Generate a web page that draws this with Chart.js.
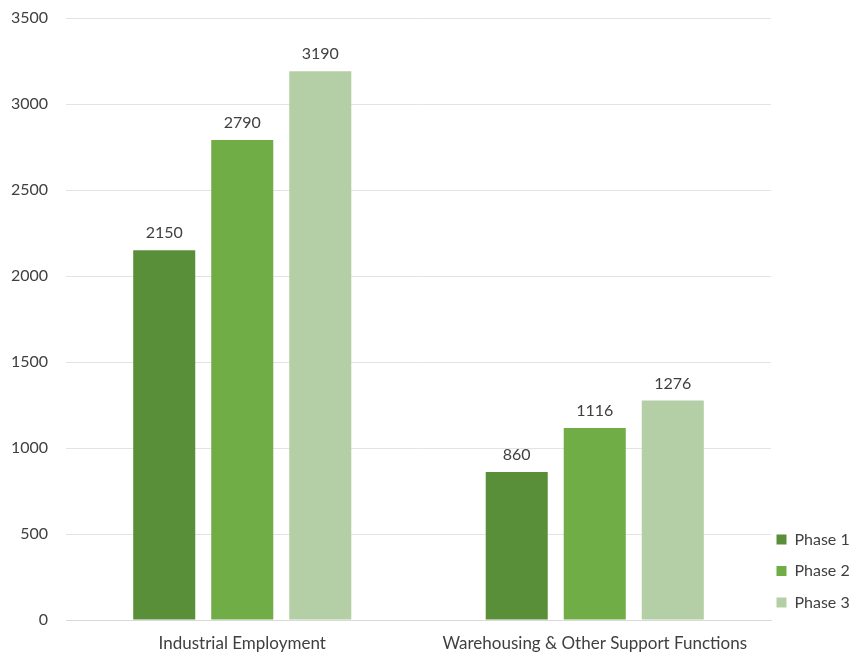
<!DOCTYPE html>
<html>
<head>
<meta charset="utf-8">
<script src="https://cdn.jsdelivr.net/npm/chart.js@4/dist/chart.umd.min.js"></script>
<style>
  html, body { margin: 0; padding: 0; background: #fff; }
  #wrap { width: 850px; height: 655px; }
</style>
</head>
<body>
<div id="wrap"><canvas id="chart"></canvas></div>
<script>
// --- data ---
const categories = ['Industrial Employment', 'Warehousing & Other Support Functions'];
const seriesNames = ['Phase 1', 'Phase 2', 'Phase 3'];
const phase1 = [2150, 860];
const phase2 = [2790, 1116];
const phase3 = [3190, 1276];
const yTicks = [0, 500, 1000, 1500, 2000, 2500, 3000, 3500];

const colors = ['#5a8f3a', '#70ad47', '#b4cea5'];
const FONT = 'Lato, "Open Sans", sans-serif';

// draws the value above every bar
const valueLabels = {
    id: 'valueLabels',
    afterDatasetsDraw(chart) {
        const ctx = chart.ctx;
        ctx.save();
        ctx.font = '16px ' + FONT;
        ctx.fillStyle = '#404040';
        ctx.textAlign = 'center';
        ctx.textBaseline = 'bottom';
        chart.data.datasets.forEach((ds, i) => {
            chart.getDatasetMeta(i).data.forEach((bar, j) => {
                ctx.fillText(ds.data[j], bar.x, bar.y - 9);
            });
        });
        ctx.restore();
    }
};

// keep the legend narrow so the plot reaches x=771, then nudge it into place
const legendFit = {
    id: 'legendFit',
    afterInit(chart) {
        const lg = chart.legend;
        const orig = lg.fit.bind(lg);
        lg.fit = function() { orig(); this.width = 79; };
    },
    afterLayout(chart) {
        const lg = chart.legend;
        lg.left -= 10;
        lg.top -= 29; lg.bottom -= 29;
    }
};

new Chart(document.getElementById('chart'), {
    type: 'bar',
    data: {
        labels: categories,
        datasets: [phase1, phase2, phase3].map((d, i) => ({
            label: seriesNames[i],
            data: d,
            backgroundColor: colors[i],
            categoryPercentage: 0.664,
            barPercentage: 0.795
        }))
    },
    options: {
        responsive: true,
        maintainAspectRatio: false,
        animation: false,
        layout: { padding: { top: 18, right: 0, bottom: 0, left: 0 } },
        plugins: {
            legend: {
                position: 'right',
                align: 'end',
                labels: {
                    font: { family: FONT, size: 16 },
                    color: '#404040',
                    boxWidth: 10,
                    boxHeight: 10,
                    padding: 15.5
                }
            },
            tooltip: { enabled: false }
        },
        scales: {
            x: {
                grid: { display: false },
                border: { color: '#d9d9d9', width: 1 },
                ticks: {
                    font: { family: FONT, size: 17 },
                    color: '#404040',
                    padding: 5
                },
                afterFit(scale) { scale.height = 35; }
            },
            y: {
                min: 0,
                max: 3500,
                afterBuildTicks(scale) { scale.ticks = yTicks.map(v => ({ value: v })); },
                grid: { color: '#e3e3e3', drawTicks: false },
                border: { display: false },
                ticks: {
                    font: { family: FONT, size: 16 },
                    color: '#404040',
                    padding: 18,
                    callback: v => String(v)
                },
                afterFit(scale) {
                    scale.width = 66;
                    scale.paddingTop = 0;
                    scale.paddingBottom = 0;
                }
            }
        }
    },
    plugins: [valueLabels, legendFit]
});
</script>
</body>
</html>
